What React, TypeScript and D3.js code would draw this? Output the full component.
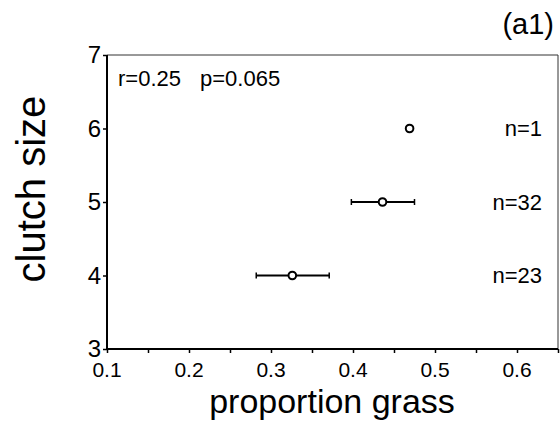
import React, { useEffect, useRef } from 'react';
import * as d3 from 'd3';

// proportion of grass per clutch size group (mean, lower, upper)
const clutchSizes = [6, 5, 4];
const means = [0.469, 0.436, 0.326];
const lowers = [null, 0.398, 0.282];
const uppers = [null, 0.475, 0.371];
const nLabels = ['n=1', 'n=32', 'n=23'];

const xTicks = [0.1, 0.2, 0.3, 0.4, 0.5, 0.6];
const yTicks = [3, 4, 5, 6, 7];

const App = () => {
  const ref = useRef<SVGSVGElement>(null);

  useEffect(() => {
    const svg = d3.select(ref.current);
    svg.selectAll('*').remove();

    const margin = { top: 55, right: 2, bottom: 74, left: 107 };
    const width = 560 - margin.left - margin.right;
    const height = 423 - margin.top - margin.bottom;
    const font = 'Liberation Sans, Arial, Helvetica, sans-serif';

    const x = d3.scaleLinear().domain([0.1, 0.65]).range([0, width]);
    const y = d3.scaleLinear().domain([3, 7]).range([height, 0]);

    const g = svg.append('g').attr('transform', `translate(${margin.left},${margin.top})`);

    // frame top/right
    g.append('path')
      .attr('d', `M0,0H${width}V${height}`)
      .attr('fill', 'none')
      .attr('stroke', '#333')
      .attr('stroke-width', 1);

    // x axis
    const xAxis = g.append('g').attr('transform', `translate(0,${height})`);
    xAxis.call(
      d3.axisBottom(x).tickValues(d3.range(0.1, 0.66, 0.05)).tickSize(4).tickFormat(() => '')
    );
    xAxis.select('.domain').attr('stroke-width', 2).attr('d', `M0,0H${width}`);
    xAxis.selectAll('line').attr('stroke-width', 1.5);
    xAxis
      .selectAll('.xlab')
      .data(xTicks)
      .join('text')
      .attr('x', (d) => x(d))
      .attr('y', 28)
      .attr('text-anchor', 'middle')
      .attr('font-size', 21)
      .attr('font-family', font)
      .attr('fill', '#000')
      .text((d) => d3.format('.1f')(d));

    // y axis
    const yAxis = g.append('g');
    yAxis.call(d3.axisLeft(y).tickValues(yTicks).tickSize(4).tickPadding(2).tickFormat(d3.format('d')));
    yAxis.select('.domain').attr('stroke-width', 2).attr('d', `M0,${height}V0`);
    yAxis.selectAll('text').attr('font-size', 24).attr('font-family', font).attr('fill', '#000');
    yAxis.selectAll('line').attr('stroke-width', 1.5);

    // error bars
    means.forEach((m, i) => {
      const lo = lowers[i];
      const hi = uppers[i];
      const cy = y(clutchSizes[i]);
      if (lo != null && hi != null) {
        g.append('line')
          .attr('x1', x(lo))
          .attr('x2', x(hi))
          .attr('y1', cy)
          .attr('y2', cy)
          .attr('stroke', '#000')
          .attr('stroke-width', 1.8);
        [lo, hi].forEach((v) => {
          g.append('line')
            .attr('x1', x(v))
            .attr('x2', x(v))
            .attr('y1', cy - 3)
            .attr('y2', cy + 3)
            .attr('stroke', '#000')
            .attr('stroke-width', 1.5);
        });
      }
      g.append('circle')
        .attr('cx', x(m))
        .attr('cy', cy)
        .attr('r', 3.8)
        .attr('fill', '#fff')
        .attr('stroke', '#000')
        .attr('stroke-width', 2);
      g.append('text')
        .attr('x', width - 16)
        .attr('y', cy)
        .attr('dy', '0.36em')
        .attr('text-anchor', 'end')
        .attr('font-size', 22)
        .attr('font-family', font)
        .text(nLabels[i]);
    });

    // stats
    g.append('text')
      .attr('x', 11)
      .attr('y', 31)
      .attr('font-size', 22)
      .attr('font-family', font)
      .text('r=0.25');
    g.append('text')
      .attr('x', 93)
      .attr('y', 31)
      .attr('font-size', 22)
      .attr('font-family', font)
      .text('p=0.065');

    // panel label
    svg.append('text')
      .attr('x', 554)
      .attr('y', 34)
      .attr('text-anchor', 'end')
      .attr('font-size', 29)
      .attr('font-family', font)
      .text('(a1)');

    // axis titles
    svg.append('text')
      .attr('x', 332)
      .attr('y', 413)
      .attr('text-anchor', 'middle')
      .attr('font-size', 34)
      .attr('font-family', font)
      .text('proportion grass');

    svg.append('text')
      .attr('transform', `translate(45,189) rotate(-90)`)
      .attr('text-anchor', 'middle')
      .attr('font-size', 40)
      .attr('font-family', font)
      .text('clutch size');
  }, []);

  return (
    <svg
      ref={ref}
      width={560}
      height={423}
      style={{ position: 'absolute', left: 0, top: 0, background: '#fff' }}
    />
  );
};

export default App;
